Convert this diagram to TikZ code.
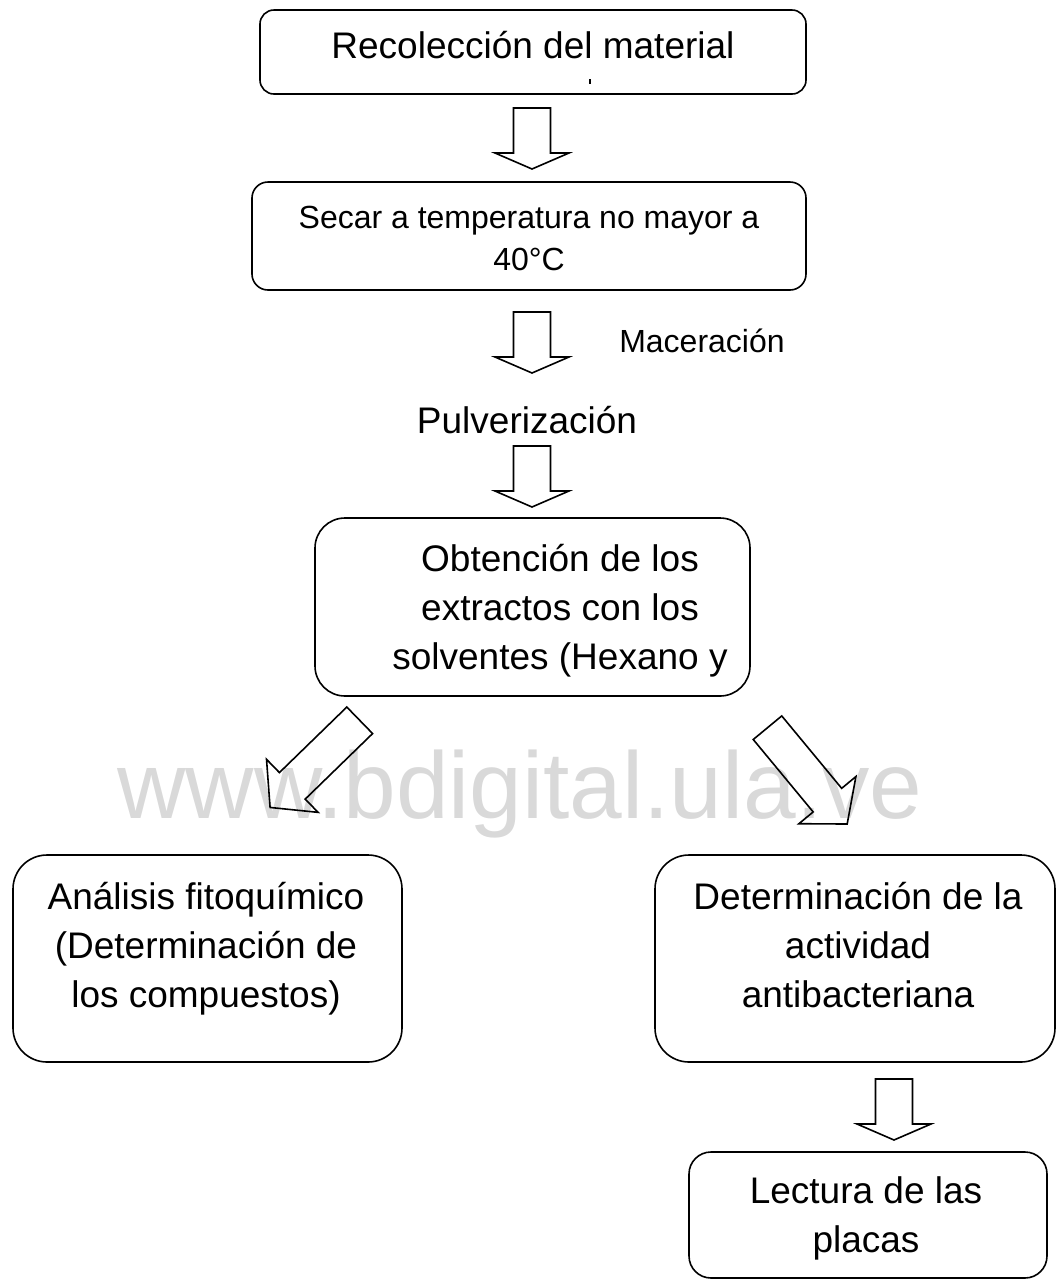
\documentclass[tikz,border=0pt]{standalone}
\usepackage{fontspec}
\setmainfont{Liberation Sans}

\tikzset{
  flowbox/.style={draw, line width=1.2pt, inner sep=0pt, rounded corners=#1},
  blockline/.style={draw, line width=1.2pt, line join=miter},
  bigtext/.style={inner sep=0pt, align=center, anchor=base,
    font=\fontsize{27.75}{36.4}\selectfont},
  midtext/.style={inner sep=0pt, align=center, anchor=base,
    font=\fontsize{24}{31.5}\selectfont},
  watermark/.style={inner sep=0pt, anchor=base, text=black!15,
    font=\fontsize{71}{80}\selectfont}
}

% tail, direction, shaft length, head length
\newcommand{\blockarrow}[4]{%
  \draw[blockline, shift={(#1)}, rotate=#2]
    (0,-18.5) -- (#3,-18.5) -- (#3,-37) -- (#3+#4,0) -- (#3,37) -- (#3,18.5) -- (0,18.5) -- cycle;}

\begin{document}
\begin{tikzpicture}[x=0.75pt, y=-0.75pt]
  \useasboundingbox (0,0) rectangle (1057,1283);

  \node[watermark] (wm) at (520,818) {www.bdigital.ula.ve};

  \node[flowbox=10.5pt, minimum width=409.5pt, minimum height=63pt] (recol) at (533,52) {};
  \node[bigtext] (recoltxt) at (533,58) {Recolección del material};
  \fill (588.5,79) rectangle (590.5,84);

  \node[flowbox=12pt, minimum width=415.5pt, minimum height=81pt] (secar) at (529,236) {};
  \node[midtext] (secartxt) at (529,270) {Secar a temperatura no mayor a\\40°C};

  \node[midtext] (macer) at (702,352) {Maceración};
  \node[bigtext] (pulver) at (527,433) {Pulverización};

  \node[flowbox=22.5pt, minimum width=326.25pt, minimum height=133.5pt] (extr) at (532.5,607) {};
  \node[bigtext] (extrtxt) at (560,669) {Obtención de los\\extractos con los\\solventes (Hexano y};

  \node[flowbox=25.5pt, minimum width=291.75pt, minimum height=155.25pt] (fito) at (207.5,958.5) {};
  \node[bigtext] (fitotxt) at (206,1007) {Análisis fitoquímico\\(Determinación de\\los compuestos)};

  \node[flowbox=25.5pt, minimum width=300pt, minimum height=155.25pt] (antib) at (855,958.5) {};
  \node[bigtext] (antibtxt) at (858,1007) {Determinación de la\\actividad\\antibacteriana};

  \node[flowbox=16.5pt, minimum width=268.5pt, minimum height=94.5pt] (placas) at (868,1215) {};
  \node[bigtext] (placastxt) at (866,1252) {Lectura de las\\placas};

  \coordinate (a1) at (532,108);
  \coordinate (a2) at (532,312);
  \coordinate (a3) at (532,446);
  \coordinate (a4) at (359.7,720.3);
  \coordinate (a5) at (767.5,727.7);
  \coordinate (a6) at (894,1079);

  \foreach \a in {a1,a2,a3,a6}
    {\blockarrow{\a}{-90}{45}{16}}
  \blockarrow{a4}{224.2}{94}{31}
  \blockarrow{a5}{-50.4}{94}{31}
\end{tikzpicture}
\end{document}
